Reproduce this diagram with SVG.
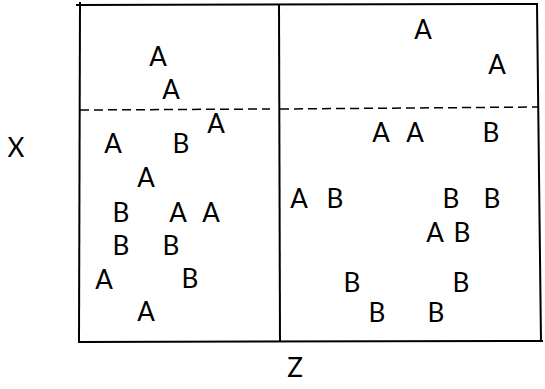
<svg xmlns="http://www.w3.org/2000/svg" width="545" height="389" viewBox="0 0 545 389">
<style>
.l{font-family:Lato,"DejaVu Sans",sans-serif;font-size:26px;fill:#000;text-anchor:middle}
.b{stroke:#000;stroke-width:2;fill:none}
.d{stroke:#000;stroke-width:1.5;fill:none;stroke-dasharray:9 5}
</style>
<rect width="545" height="389" fill="#fff"/>
<g id="frame">
<line class="b" x1="76" y1="5" x2="538" y2="4"/>
<line class="b" x1="80" y1="2" x2="79" y2="342"/>
<line class="b" x1="279" y1="4" x2="280" y2="342"/>
<line class="b" x1="537" y1="4" x2="541" y2="342"/>
<line class="b" x1="78" y1="342" x2="543" y2="341"/>
<line class="d" x1="80" y1="110" x2="270" y2="109"/>
<line class="d" x1="280" y1="109" x2="538" y2="107"/>
</g>
<g id="axes">
<text class="l" x="16" y="157">X</text>
<text class="l" x="295" y="377">Z</text>
</g>
<g id="left">
<text class="l" x="158" y="66">A</text>
<text class="l" x="171" y="99">A</text>
<text class="l" x="216" y="133">A</text>
<text class="l" x="113" y="153">A</text>
<text class="l" x="181" y="153">B</text>
<text class="l" x="146" y="187">A</text>
<text class="l" x="121" y="222">B</text>
<text class="l" x="178" y="222">A</text>
<text class="l" x="211" y="222">A</text>
<text class="l" x="121" y="255">B</text>
<text class="l" x="171" y="255">B</text>
<text class="l" x="104" y="289">A</text>
<text class="l" x="190" y="288">B</text>
<text class="l" x="146" y="321">A</text>
</g>
<g id="right">
<text class="l" x="423" y="39">A</text>
<text class="l" x="497" y="74">A</text>
<text class="l" x="381" y="142">A</text>
<text class="l" x="415" y="142">A</text>
<text class="l" x="491" y="142">B</text>
<text class="l" x="299" y="208">A</text>
<text class="l" x="335" y="208">B</text>
<text class="l" x="451" y="208">B</text>
<text class="l" x="492" y="208">B</text>
<text class="l" x="435" y="242">A</text>
<text class="l" x="462" y="242">B</text>
<text class="l" x="352" y="292">B</text>
<text class="l" x="461" y="292">B</text>
<text class="l" x="377" y="322">B</text>
<text class="l" x="436" y="322">B</text>
</g>
</svg>
